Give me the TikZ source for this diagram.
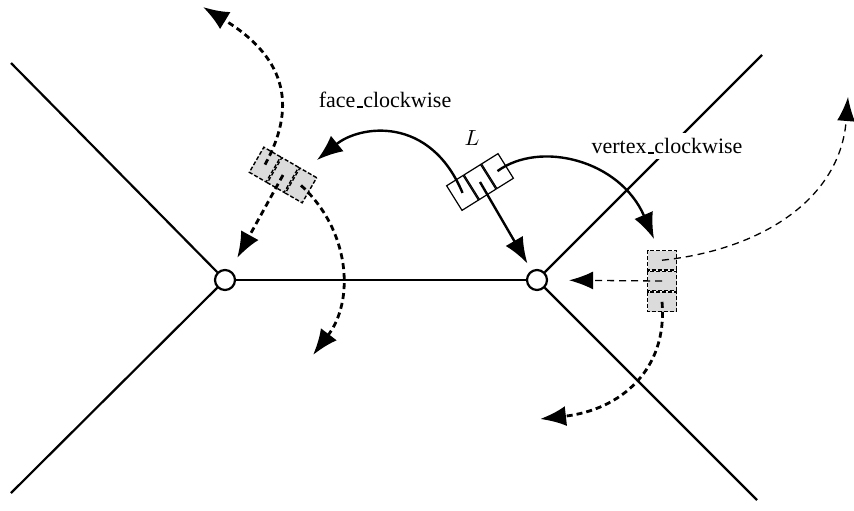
\documentclass[tikz,border=0pt]{standalone}
\usepackage{fontspec}
\setmainfont{Liberation Serif}
\usetikzlibrary{arrows.meta,positioning}
\newcommand\usc{\kern.06em\rule{.3em}{.6pt}}
\tikzset{
  edge/.style={line width=1.1pt},
  vert/.style={circle,draw,fill=white,line width=1.1pt,minimum size=10pt,inner sep=0pt},
  cell/.style={draw,line width=0.6pt,minimum width=9.7pt,minimum height=14.5pt,inner sep=0pt},
  ghost/.style={cell,fill=black!14,line width=0.7pt,dash pattern=on 2pt off 1pt},
  ptr/.style={line width=1.2pt,-{Latex[length=13pt,width=10pt]}},
  fptr/.style={line width=1.4pt,dash pattern=on 3pt off 2pt,-{Latex[length=13pt,width=10pt]}},
  vptr/.style={line width=0.65pt,dash pattern=on 3.5pt off 2.5pt,-{Latex[length=12pt,width=9pt]}},
  lbl/.style={font=\fontsize{11}{13}\selectfont}
}
\begin{document}
\begin{tikzpicture}[x=0.5pt,y=-0.5pt]
    \useasboundingbox (0,0) rectangle (854,510);
    %% vertices and edges
    \node[vert] (v1) at (225,280) {};
    \node[vert] (v2) at (537,280) {};
    \coordinate (ul) at (11,63);
    \coordinate (ll) at (11,493);
    \coordinate (ur) at (762,55);
    \coordinate (lr) at (757,500);
    \draw[edge] (v1) -- (v2);
    \draw[edge] (v1) -- (ul);
    \draw[edge] (v1) -- (ll);
    \draw[edge] (v2) -- (ur);
    \draw[edge] (v2) -- (lr);
    %% labels
    \node[lbl] (fc) at (385,100) {face\usc clockwise};
    \node[lbl,fill=white,inner sep=2.5pt] (vc) at (667,146) {vertex\usc clockwise};
    \node[lbl] (Lname) at (472,138) {$L$};
    %% half-edge L
    \node[cell,rotate=32] (L2) at (480,182) {};
    \node[cell,rotate=32,left=0pt of L2] (L1) {};
    \node[cell,rotate=32,right=0pt of L2] (L3) {};
    %% its neighbours
    \node[ghost,rotate=-30] (F2) at (283,175) {};
    \node[ghost,rotate=-30,left=0pt of F2] (F1) {};
    \node[ghost,rotate=-30,right=0pt of F2] (F3) {};
    \node[ghost,rotate=-90] (V2) at (662,281) {};
    \node[ghost,rotate=-90,left=0pt of V2] (V1) {};
    \node[ghost,rotate=-90,right=0pt of V2] (V3) {};
    %% free ends
    \coordinate (fa) at (317,160);
    \coordinate (va) at (654,239);
    \coordinate (fup) at (203,7);
    \coordinate (fdn) at (313,355);
    \coordinate (vup) at (848,97);
    \coordinate (vdn) at (540,419);
    %% pointers of L
    \draw[ptr] (L1.center) .. controls (430,115) and (360,125) .. (fa);
    \draw[ptr,shorten >=4pt] (L2.center) -- (v2);
    \draw[ptr] (L3.center) .. controls (540,140) and (620,160) .. (va);
    %% pointers of the neighbours
    \draw[fptr] (F1.center) .. controls (295,110) and (290,60) .. (fup);
    \draw[fptr,shorten >=7pt] (F2.center) -- (v1);
    \draw[fptr] (F3.center) .. controls (350,230) and (355,300) .. (fdn);
    \draw[vptr] (V1.center) .. controls (760,250) and (840,200) .. (vup);
    \draw[vptr,shorten >=10.5pt] (V2.center) -- (v2);
    \draw[fptr] (V3.center) .. controls (668,370) and (620,410) .. (vdn);
\end{tikzpicture}
\end{document}
